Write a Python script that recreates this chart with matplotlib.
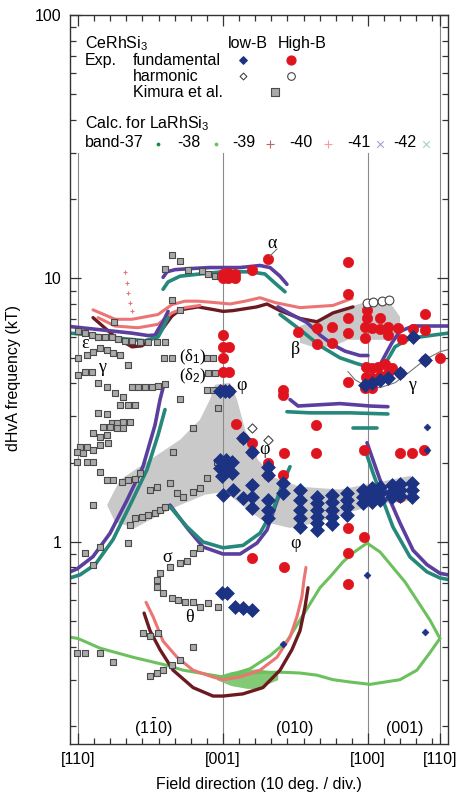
import numpy as np
import matplotlib
matplotlib.use('Agg')
import matplotlib.pyplot as plt
from matplotlib.lines import Line2D
from matplotlib.ticker import FixedLocator, NullFormatter, LogLocator

plt.rcParams['font.family'] = ['Liberation Sans', 'DejaVu Sans']
plt.rcParams['mathtext.fontset'] = 'custom'
plt.rcParams['mathtext.rm'] = 'Liberation Sans'
plt.rcParams['mathtext.it'] = 'Liberation Sans:italic'
plt.rcParams['mathtext.bf'] = 'Liberation Sans:bold'

# ---------------- data (x: field angle in degrees from [110]; y: kT) ----------------
dir_ticks = [0, 90, 180, 225]
dir_labels = ['[110]', '[001]', '[100]', '[110]']

# calculated LaRhSi3 branches
b38a_deg = [-5, 0, 13.7, 34.1, 55.2, 65.2, 75.7, 90, 96.2, 106.8, 117.3, 127.3, 137.8, 148.4, 158.3, 168.8, 181.3, 199.9, 210.4, 218.5, 224.7]
b38a_kT = [0.435, 0.43, 0.395, 0.365, 0.34, 0.326, 0.318, 0.307, 0.312, 0.318, 0.32, 0.32, 0.318, 0.312, 0.30, 0.294, 0.288, 0.30, 0.326, 0.38, 0.43]
b38b_deg = [90, 106.8, 119.2, 129.7, 137.8, 150.2, 156.4, 164.5, 170.7, 179.4, 187.5, 195.5, 203, 210.5, 218.5, 224.7]
b38b_kT = [0.307, 0.33, 0.37, 0.42, 0.505, 0.67, 0.736, 0.84, 0.908, 0.99, 0.916, 0.80, 0.705, 0.60, 0.505, 0.43]
b38n_deg = [86, 95, 105, 112, 118, 124]
b38n_lo = [0.30, 0.285, 0.278, 0.278, 0.29, 0.30]
b38n_hi = [0.31, 0.322, 0.328, 0.33, 0.325, 0.315]

b39_up_deg = [9.3, 23, 33.5, 39.7, 45.9, 52.1, 58.3, 63.3, 74.5, 85, 90, 96.2, 111, 117.3, 125.4, 137.8, 148.4, 158.3, 170.7]
b39_up_kT = [7.1, 6.0, 5.5, 5.55, 5.9, 6.4, 7.2, 7.6, 7.8, 7.6, 7.5, 7.55, 7.8, 8.0, 7.55, 7.05, 6.85, 7.4, 7.8]
b39_lo_deg = [41, 44.7, 50.9, 59, 71.4, 83.8, 90, 102.4, 114.8, 125.4, 132.8, 137.8, 140.9, 142.8]
b39_lo_kT = [0.537, 0.46, 0.39, 0.326, 0.28, 0.26, 0.26, 0.265, 0.28, 0.326, 0.39, 0.46, 0.565, 0.67]

b40_up1_deg = [9.3, 23, 33.5, 49.7, 58.3, 66.4, 74.5, 85, 94.4, 103.7, 113, 122.3, 137.8, 158.3, 170.1]
b40_up1_kT = [7.6, 7.0, 7.0, 7.3, 7.96, 8.2, 8.2, 8.1, 8.0, 8.2, 8.45, 8.1, 7.75, 7.9, 8.4]
b40_up2_deg = [12.4, 23, 37.2, 49.7, 58.3, 66.4, 75.7]
b40_up2_kT = [7.1, 6.6, 6.5, 6.7, 7.4, 7.75, 7.9]
b40_lo_deg = [42.2, 46.6, 52.8, 61.5, 71.4, 83.8, 90, 100.6, 113, 123.5, 131.6, 135.9, 139, 140.3, 141.5]
b40_lo_kT = [0.59, 0.52, 0.42, 0.365, 0.326, 0.307, 0.30, 0.307, 0.326, 0.365, 0.435, 0.52, 0.62, 0.72, 0.80]
b40_dots_deg = [29.2, 30.4, 31.0, 32.3, 33.5]
b40_dots_kT = [10.6, 9.65, 8.84, 8.1, 7.5]

b41_a_deg = [52.8, 55.2, 60.2, 69.5, 81.9, 90, 100.6, 113, 119.2, 125.4, 129.7]
b41_a_kT = [10.1, 10.6, 10.8, 10.9, 11.0, 11.0, 11.0, 11.2, 11.0, 10.2, 9.5]
b41_b_deg = [-5, 12.4, 33.5, 43.5, 47.8, 49.7, 52.8, 55.9]
b41_b_kT = [6.57, 6.4, 6.2, 6.07, 6.1, 6.4, 6.85, 7.5]
b41_c_deg = [124.1, 131.6, 142.2, 150.2, 158.3, 165.7, 175, 180]
b41_c_kT = [7.8, 7.35, 6.8, 6.1, 5.6, 5.3, 5.1, 5.1]
b41_d_deg = [187.5, 190.6, 194.9, 199.9, 208, 218.5, 229.7]
b41_d_kT = [4.7, 5.1, 5.7, 6.3, 6.6, 6.6, 6.6]
b41_e_deg = [131.6, 136.6, 144, 162.6, 181.3, 192.4]
b41_e_kT = [3.47, 3.28, 3.3, 3.35, 3.28, 3.26]
b41_f_deg = [-5, -0.6, 9.3, 19.9, 30.4, 40.3, 47.8, 50.9, 52.8]
b41_f_kT = [0.77, 0.79, 0.88, 1.08, 1.44, 1.93, 2.78, 3.47, 3.85]
b41_g_deg = [57.1, 67.7, 77.6, 90, 100.6, 111.1, 117.3, 121, 125.4]
b41_g_kT = [1.38, 1.13, 0.957, 0.90, 0.90, 0.99, 1.11, 1.29, 1.54]
b41_h_deg = [179.4, 183.1, 187.5, 193.7, 199.9, 208, 216.6, 224.7, 229.7]
b41_h_kT = [2.38, 2.05, 1.72, 1.44, 1.18, 0.93, 0.82, 0.76, 0.75]

b42_a_deg = [52.8, 55.9, 63.3, 75.7, 90, 106.8, 116, 122.3, 128.5]
b42_a_kT = [9.1, 9.7, 10.2, 10.4, 10.6, 10.6, 10.4, 9.6, 8.9]
b42_b_deg = [-5, 12.4, 29.2, 41.6, 49.7, 52.8, 55.9]
b42_b_kT = [6.2, 6.07, 5.9, 5.8, 6.0, 6.5, 7.1]
b42_c_deg = [125.4, 137.8, 150.2, 162.6, 173.2, 178]
b42_c_kT = [7.3, 6.4, 5.55, 5.0, 4.75, 4.66]
b42_d_deg = [189.3, 193.7, 196.8, 204.2, 212.3, 229.7]
b42_d_kT = [4.6, 5.1, 5.5, 5.85, 6.0, 6.2]
b42_e_deg = [129.7, 144, 168.8, 192.4]
b42_e_kT = [3.12, 3.09, 3.09, 3.06]
b42_s_deg = [170.7, 185.6]
b42_s_kT = [2.7, 2.7]
b42_f_deg = [-5, 1.2, 10.6, 21.7, 32.3, 42.8, 49.7, 54]
b42_f_kT = [0.73, 0.75, 0.82, 1.02, 1.38, 1.88, 2.55, 3.18]
b42_g_deg = [57.1, 67.7, 77.6, 90, 102.4, 113, 121, 127.3, 131.6]
b42_g_kT = [1.36, 1.14, 1.0, 0.95, 0.97, 1.08, 1.32, 1.68, 1.93]
b42_h_deg = [178.2, 183.1, 189.3, 195.5, 206.1, 216.6, 224.7, 229.7]
b42_h_kT = [2.24, 1.83, 1.44, 1.14, 0.877, 0.77, 0.73, 0.72]

# experiment, high-B fundamental
red_deg = [117.9, 108, 93.1, 93.1, 97.5, 97.5, 90, 90,
           90, 90, 93.7, 90, 90, 93.7, 90, 93.7,
           136.6, 148.4, 148.4, 157.7, 157.7, 127.3, 127.3,
           167.6, 167.6, 179.4, 167.6, 179.4, 187.5,
           178.2, 182.5, 187.5, 192.4, 198.6, 208, 215.4,
           167.6, 178.2, 192.4, 201.1, 215.4,
           178.8, 182.5, 186.2, 190.6, 194.9, 178.8, 182.5, 187.5, 192.4,
           167.6, 178.2, 182.5, 199.9, 215.4, 224.7,
           98.1, 102.4, 108, 108, 117.9, 117.9, 127.9, 127.3, 147.7, 147.7, 177.5,
           199.9, 207.3, 214.8, 199.9, 167.6, 177.5, 167.6, 108, 127.9, 167.6]
red_kT = [11.9, 10.8, 10.5, 10.0, 10.4, 10.0, 10.4, 10.0,
          6.1, 5.5, 5.5, 5.0, 4.43, 4.4, 3.78, 3.75,
          6.27, 6.5, 5.65, 6.55, 5.7, 3.78, 3.6,
          11.5, 8.7, 7.6, 7.1, 7.1, 7.1,
          6.55, 6.5, 6.45, 6.55, 6.5, 6.45, 6.35,
          6.2, 5.95, 6.1, 5.87, 7.3,
          4.63, 4.58, 4.63, 4.72, 4.58, 4.23, 4.2, 4.27, 4.39,
          4.06, 3.85, 3.85, 4.39, 4.9, 5.0,
          2.81, 2.48, 2.38, 2.2, 1.99, 1.8, 2.18, 1.8, 2.78, 2.18, 2.24,
          2.18, 2.18, 2.24, 1.48, 1.13, 1.04, 0.91, 0.87, 0.80, 0.69]

# experiment, low-B fundamental
blue_deg = [88.1, 91.2, 94.0,
            88.1, 91.9, 95.6, 88.1, 91.9, 89.4, 95.6,
            90, 96.2, 102.4, 108, 108, 108, 102.4, 108,
            117.9, 117.9, 117.9, 117.9, 117.9, 127.3, 127.3,
            137.8, 137.8, 137.8, 137.8, 137.8,
            148.4, 148.4, 148.4, 148.4, 148.4, 148.4,
            157.7, 157.7, 157.7, 157.7, 157.7,
            167.0, 167.0, 167.0, 167.0,
            176.9, 176.9, 176.9, 182.5, 182.5, 182.5, 187.5, 187.5, 187.5,
            194.9, 194.9, 194.9, 199.9, 199.9, 199.9, 207.3, 207.3, 207.3,
            89.4, 92.5, 97.5, 102.4, 108,
            178.2, 182.5, 187.5, 192.4, 199.9, 215.4, 208]
blue_kT = [3.75, 3.75, 3.75,
           2.05, 2.05, 2.01, 1.91, 1.88, 1.78, 1.83,
           1.51, 1.58, 1.47, 1.35, 1.65, 1.48, 2.48, 2.2,
           1.93, 1.8, 1.44, 1.32, 1.23, 1.68, 1.54,
           1.58, 1.44, 1.32, 1.23, 1.14,
           1.48, 1.41, 1.32, 1.24, 1.18, 1.11,
           1.51, 1.42, 1.32, 1.24, 1.17,
           1.54, 1.44, 1.36, 1.27,
           1.58, 1.48, 1.41, 1.6, 1.51, 1.42, 1.62, 1.54, 1.44,
           1.65, 1.55, 1.48, 1.66, 1.58, 1.50, 1.68, 1.58, 1.48,
           0.64, 0.64, 0.566, 0.56, 0.55,
           3.95, 4.0, 4.1, 4.2, 4.39, 4.9, 6.0]
blue_small_deg = [216.6, 216.6, 179.4, 215.4, 127.3]
blue_small_kT = [2.74, 2.24, 0.75, 0.455, 0.41]

# harmonics
harm_hi_deg = [179.4, 183.1, 188.7, 193.0]
harm_hi_kT = [8.1, 8.17, 8.23, 8.3]
harm_lo_deg = [108, 117.9]
harm_lo_kT = [2.71, 2.44]

# Kimura et al.
kim_deg = [58.3, 63.3, 54, 68.3, 77, 80.7, 85, 88.1, 58.3, 63.3, 22.3,
           0, 4.3, 8.7, 12.4, 16.8, 21.1, 24.8, 29.2, 33.5, 38.5, 43.5, 49, 54,
           0, 5.6, 9.3, 13.7, 18, 21.7, 26.1, 31, 0, 4.3, 8.7,
           12.4, 18, 23, 27.9, 33.5, 37.2, 41.6, 45.9, 49.7, 54,
           53.4, 58.3, 63.3, 12.4, 18,
           80.1, 83.8, 80.7, 85, 80.1, 83.8, 86.9,
           26.1, 31, 35.4, 21.1, 24.2, 27.9, 32.3, 15.5, 19.9, 24.2, 27.9,
           9.3, 13.7, 18, 18.6, 13.7, 9.3, 5.6, 1.2, -0.6, 3.1, -0.6, 5.6, 9.3,
           13.7, 18, 21.7, 27.3, 31, 35.4, 38.5, 44.7, 49, 9.3,
           32.3, 35.4, 39.7, 43.5, 47.8, 50.9, 54,
           59, 71.4, 57.1, 61.5, 65.2, 71.4, 75.7, 80.1, 86.3,
           31, 13.7, 4.3, 9.3,
           49, 50.9, 57.1, 63.3, 67.7, 71.4, 75.7,
           49, 52.8, 58.3, 62.1, 66.4, 71.4, 75.7, 80.7, 86.9,
           -0.6, 4.3, 13.7, 21.7, 40.3, 44.7, 49.7, 44.7, 49, 52.8, 58.3, 63.3, 71.4]
kim_kT = [12.3, 11.6, 10.9, 10.8, 10.7, 10.4, 10.2, 10.2, 8.3, 7.6, 6.85,
          6.3, 6.2, 6.1, 6.0, 6.0, 6.0, 5.9, 5.8, 5.8, 5.76, 5.76, 5.76, 5.76,
          5.0, 5.13, 5.27, 5.45, 5.37, 5.23, 5.13, 4.7, 4.3, 4.43, 4.43,
          4.02, 3.88, 3.68, 3.56, 3.88, 3.88, 3.88, 3.88, 3.92, 3.96,
          5.0, 5.0, 3.5, 3.09, 3.07,
          5.0, 5.0, 4.39, 4.39, 3.78, 3.78, 3.23,
          3.32, 3.32, 3.32, 2.83, 2.83, 2.86, 2.86, 2.74, 2.74, 2.71, 2.71,
          2.6, 2.5, 2.55, 2.38, 2.34, 2.24, 2.3, 2.3, 2.2, 2.18, 2.01, 2.01, 2.01,
          1.85, 1.72, 1.72, 1.69, 1.72, 1.74, 1.83, 1.58, 1.62, 1.38,
          1.16, 1.23, 1.24, 1.27, 1.29, 1.32, 1.36,
          2.2, 2.71, 1.68, 1.54, 1.48, 1.55, 1.6, 1.75, 2.01,
          0.99, 0.957, 0.908, 0.82,
          0.72, 0.76, 0.80, 0.83, 0.85, 0.908, 0.95,
          0.674, 0.64, 0.61, 0.60, 0.59, 0.59, 0.566, 0.586, 0.566,
          0.38, 0.38, 0.38, 0.35, 0.45, 0.44, 0.45, 0.31, 0.318, 0.326, 0.34, 0.356, 0.40]

# shaded regions
shade1_deg = [18, 26.1, 44.7, 63.3, 75.7, 81.9, 85, 94.4, 98.7, 103.7, 111.7, 122.3, 137.8, 162.6, 187.5, 206.1, 209.2,
              209.2, 187.5, 168.8, 150.2, 131.6, 115.7, 103.7, 91.3, 78.8, 63.3, 50.9, 35.4, 23]
shade1_kT = [1.38, 1.72, 2.05, 2.44, 2.91, 3.47, 3.95, 4.02, 3.47, 2.67, 2.05, 1.75, 1.62, 1.58, 1.69, 1.78, 1.72,
             1.44, 1.39, 1.30, 1.19, 1.13, 1.19, 1.35, 1.55, 1.51, 1.38, 1.27, 1.13, 1.19]
shade2_deg = [137.8, 148.4, 167.6, 179.4, 193.7, 199.9, 199.9, 193.7, 179.4, 167.6, 157.7, 145.9, 137.8]
shade2_kT = [6.6, 6.97, 7.75, 8.17, 8.1, 7.15, 6.2, 5.85, 5.85, 5.85, 5.5, 5.5, 5.7]

guide_deg = [167.6, 171.9, 178.2, 187.5, 196.8, 206.1, 215.4, 224.7, 229.7]
guide_kT = [4.43, 4.13, 3.92, 3.85, 4.02, 4.43, 4.92, 5.27, 5.37]

# ---------------- figure ----------------
W, H = 460, 796
fig = plt.figure(figsize=(W / 100, H / 100), dpi=100)
ax = fig.add_axes([70 / W, 1 - 744 / H, 378 / W, 729 / H])
ax.set_yscale('log')
ax.set_xlim(-5, 229.7)
ax.set_ylim(0.171, 100)

def P(x, y):
    return (x / W, 1 - y / H)

C_PUR = '#5b3f9e'
C_TEAL = '#25887b'
C_MAR = '#6b1a1f'
C_SAL = '#ec7474'
C_LGR = '#6cc15e'
C_DGR = '#1d8a42'
C_RED = '#e0141e'
C_BLUE = '#1c3384'

# shaded areas
ax.fill(shade1_deg, shade1_kT, color='#c9c9c9', lw=0, zorder=1)
ax.fill(shade2_deg, shade2_kT, color='#c9c9c9', lw=0, zorder=1)

# vertical guide lines
for xv, top in zip(dir_ticks, [30, 30, 30, 100]):
    ax.plot([xv, xv], [0.171, top], color='#8a8a8a', lw=0.8, zorder=1.5)

# calc curves
def curve(x, y, c, lw=2.6):
    ax.plot(x, y, color=c, lw=lw, solid_capstyle='round', zorder=2)

ax.fill_between(b38n_deg, b38n_lo, b38n_hi, color=C_LGR, lw=0, alpha=0.85, zorder=2)
curve(b38a_deg, b38a_kT, C_LGR, 2.2)
curve(b38b_deg, b38b_kT, C_LGR, 2.2)
curve(b39_up_deg, b39_up_kT, C_MAR, 2.4)
curve(b39_lo_deg, b39_lo_kT, C_MAR, 2.4)
curve(b40_up1_deg, b40_up1_kT, C_SAL, 2.2)
curve(b40_up2_deg, b40_up2_kT, C_SAL, 2.2)
curve(b40_lo_deg, b40_lo_kT, C_SAL, 2.2)
ax.plot(b40_dots_deg, b40_dots_kT, '+', color=C_SAL, ms=3, mew=0.8, zorder=2)
for xs, ys in [(b41_a_deg, b41_a_kT), (b41_b_deg, b41_b_kT), (b41_c_deg, b41_c_kT), (b41_d_deg, b41_d_kT),
               (b41_e_deg, b41_e_kT), (b41_f_deg, b41_f_kT), (b41_g_deg, b41_g_kT), (b41_h_deg, b41_h_kT)]:
    curve(xs, ys, C_PUR)
for xs, ys in [(b42_a_deg, b42_a_kT), (b42_b_deg, b42_b_kT), (b42_c_deg, b42_c_kT), (b42_d_deg, b42_d_kT),
               (b42_e_deg, b42_e_kT), (b42_s_deg, b42_s_kT), (b42_f_deg, b42_f_kT), (b42_g_deg, b42_g_kT),
               (b42_h_deg, b42_h_kT)]:
    curve(xs, ys, C_TEAL)

ax.plot(guide_deg, guide_kT, color='#777777', lw=0.8, zorder=2.5)

# experiment
ax.scatter(kim_deg, kim_kT, marker='s', s=20, facecolor='#a9a9a9', edgecolor='#4a4a4a', lw=0.8, zorder=3)
ax.scatter(red_deg, red_kT, marker='o', s=55, facecolor=C_RED, edgecolor=C_RED, lw=0.5, zorder=4)
ax.scatter(harm_hi_deg, harm_hi_kT, marker='o', s=40, facecolor='white', edgecolor='#444444', lw=0.8, zorder=4)
ax.scatter(blue_deg, blue_kT, marker='D', s=50, facecolor=C_BLUE, edgecolor=C_BLUE, lw=0.5, zorder=5)
ax.scatter(blue_small_deg, blue_small_kT, marker='D', s=12, facecolor=C_BLUE, edgecolor=C_BLUE, lw=0.5, zorder=5)
ax.scatter(harm_lo_deg, harm_lo_kT, marker='D', s=22, facecolor='white', edgecolor='#444444', lw=0.8, zorder=5)

# ticks
ax.xaxis.set_major_locator(FixedLocator(dir_ticks))
ax.set_xticklabels(dir_labels)
ax.xaxis.set_minor_locator(FixedLocator([10, 20, 30, 40, 50, 60, 70, 80, 100, 110, 120, 130, 140, 150, 160, 170,
                                         190, 200, 210, 220]))
ax.yaxis.set_major_locator(FixedLocator([1, 10, 100]))
ax.set_yticklabels(['1', '10', '100'])
ax.yaxis.set_minor_locator(LogLocator(base=10, subs=np.arange(2, 10)))
ax.yaxis.set_minor_formatter(NullFormatter())
ax.tick_params(which='both', direction='in', top=True, right=True, labelsize=11.5, width=0.9, color='#333333')
ax.tick_params(which='major', length=8, pad=6)
ax.tick_params(which='minor', length=4)
for sp in ax.spines.values():
    sp.set_linewidth(1.0)
    sp.set_color('#333333')

fig.text(259 / W, 1 - 785 / H, 'Field direction (10 deg. / div.)', ha='center', va='center', fontsize=11.5)
fig.text(14 / W, 1 - 378 / H, 'dHvA frequency (kT)', ha='center', va='center', rotation=90, fontsize=11.5)

# legend block
fs = 11.5
def T(x, y, s, **kw):
    fig.text(*P(x, y), s, fontsize=kw.pop('fontsize', fs), ha=kw.pop('ha', 'left'), va=kw.pop('va', 'baseline'), **kw)

T(85, 48, 'CeRhSi$_3$')
T(228, 48, 'low-B')
T(278, 48, 'High-B')
T(85, 65, 'Exp.')
T(133, 65, 'fundamental')
T(133, 81, 'harmonic')
T(133, 97, 'Kimura et al.')
T(85, 128, 'Calc. for LaRhSi$_3$')
T(85, 147, 'band-37')
T(177, 147, '-38')
T(232, 147, '-39')
T(289, 147, '-40')
T(347, 147, '-41')
T(393, 147, '-42')

def M(x, y, **kw):
    ax.scatter([x / W], [1 - y / H], transform=fig.transFigure, clip_on=False, zorder=6, **kw)

M(243, 60, marker='D', s=14, facecolor=C_BLUE, edgecolor=C_BLUE)
M(291, 60, marker='o', s=40, facecolor=C_RED, edgecolor=C_RED)
M(243, 76, marker='D', s=12, facecolor='white', edgecolor='#444444', lw=0.8)
M(291, 76, marker='o', s=30, facecolor='white', edgecolor='#444444', lw=0.8)
M(275, 92, marker='s', s=40, facecolor='#a9a9a9', edgecolor='#4a4a4a', lw=0.8)
M(158, 144, marker='o', s=3, facecolor=C_DGR, edgecolor=C_DGR)
M(216, 144, marker='o', s=3, facecolor=C_LGR, edgecolor=C_LGR)
M(270, 144, marker='+', s=40, color='#b06a6a', lw=0.8)
M(328, 144, marker='+', s=40, color='#f0a0a0', lw=0.8)
M(380, 144, marker='x', s=22, color='#a9a0d0', lw=0.8)
M(426, 144, marker='x', s=22, color='#a0d0c8', lw=0.8)

# leader line for alpha
fig.add_artist(Line2D([277 / W, 270 / W], [1 - 249 / H, 1 - 256 / H], color='#777777', lw=0.8))

# branch labels
serif = ['Liberation Serif', 'DejaVu Serif']
for (x, y, s) in [(272, 244, 'α'), (295, 349, 'β'), (412, 385, 'γ'), (85, 343, 'ε'), (102, 367, 'γ'),
                  (242, 385, 'φ'), (265, 450, 'φ'), (296, 543, 'φ'), (167, 557, 'σ'), (189, 617, 'θ')]:
    fig.text(*P(x, y), s, fontsize=13, ha='center', va='center', family=serif)
fig.text(*P(193, 357), '(δ$_1$)', fontsize=12, ha='center', va='center', family=serif)
fig.text(*P(193, 376), '(δ$_2$)', fontsize=12, ha='center', va='center', family=serif)
fig.text(*P(153, 728), r'(1$\bar{1}$0)', fontsize=11.5, ha='center', va='center')
fig.text(*P(295, 728), '(010)', fontsize=11.5, ha='center', va='center')
fig.text(*P(405, 728), '(001)', fontsize=11.5, ha='center', va='center')

fig.savefig('out.png', dpi=100)
